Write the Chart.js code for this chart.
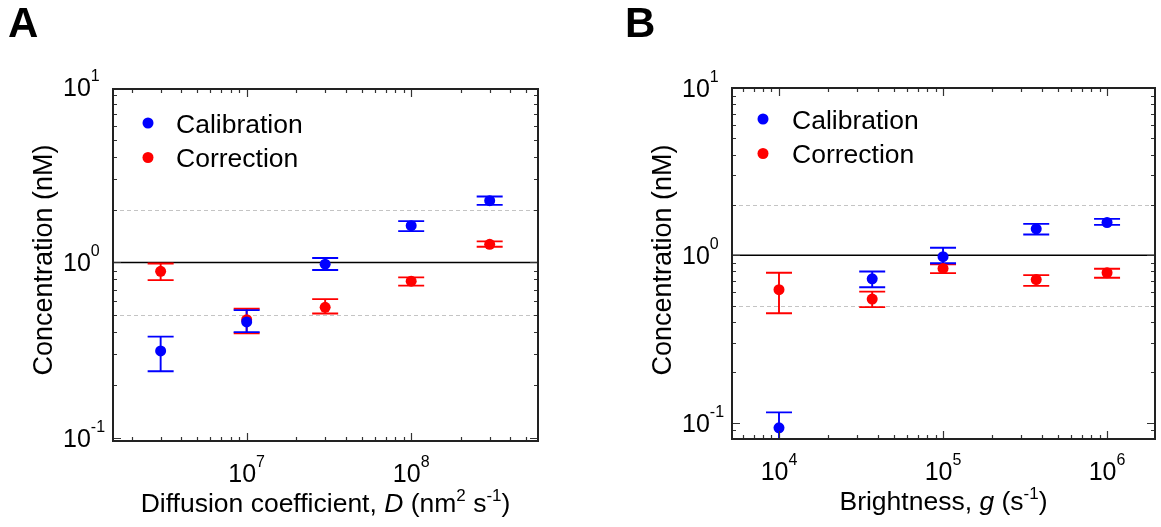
<!DOCTYPE html>
<html>
<head>
<meta charset="utf-8">
<script src="https://cdn.jsdelivr.net/npm/chart.js@4.4.0/dist/chart.umd.min.js"></script>
<style>
  html, body { margin: 0; padding: 0; background: #fff; }
  #wrap { position: relative; width: 1161px; height: 527px; overflow: hidden; }
  canvas { position: absolute; top: 0; }
  #panelA { left: 0; }
  #panelB { left: 580px; }
</style>
</head>
<body>
<div id="wrap">
  <canvas id="panelA" width="580" height="527"></canvas>
  <canvas id="panelB" width="581" height="527"></canvas>
</div>
<script>
// Panel A: concentration vs diffusion coefficient D (nm^2 s^-1)
const diffusionD = [3e6, 1e7, 3e7, 1e8, 3e8];
const calibD     = [0.313, 0.458, 0.978, 1.62, 2.25];
const calibDLow  = [0.240, 0.401, 0.906, 1.51, 2.13];
const calibDHigh = [0.378, 0.535, 1.06, 1.72, 2.38];
const corrD      = [0.891, 0.472, 0.555, 0.782, 1.27];
const corrDLow   = [0.793, 0.395, 0.512, 0.738, 1.23];
const corrDHigh  = [0.987, 0.545, 0.618, 0.822, 1.32];

// Panel B: concentration vs brightness g (s^-1)
const brightnessG = [1e4, 3.7e4, 1e5, 3.7e5, 1e6];
const calibG      = [0.093, 0.723, 0.98, 1.44, 1.57];
const calibGLow   = [0.070, 0.644, 0.895, 1.33, 1.52];
const calibGHigh  = [0.115, 0.80, 1.11, 1.54, 1.65];
const corrG       = [0.623, 0.547, 0.834, 0.716, 0.786];
const corrGLow    = [0.45, 0.49, 0.782, 0.656, 0.733];
const corrGHigh   = [0.786, 0.606, 0.883, 0.761, 0.83];

// reference levels: expected 1 nM, and a factor of two either side
const refSolid = [1];
const refDashed = [0.5, 2];
const yDecades = [0.1, 1, 10];

const FONT = '"Liberation Sans", Arial, Helvetica, sans-serif';
const BLUE = '#0000ff', RED = '#ff0000';

// text made of pieces (upright / italic / superscript)
function runsWidth(ctx, runs, size) {
  let w = 0;
  for (const r of runs) {
    const fs = r.sup ? Math.round(size * 0.64) : size;
    ctx.font = `${r.italic ? 'italic ' : ''}${fs}px ${FONT}`;
    w += ctx.measureText(r.t).width;
  }
  return w;
}
function drawRuns(ctx, runs, x, y, size, raise) {
  ctx.textAlign = 'left';
  ctx.textBaseline = 'alphabetic';
  let cx = x;
  for (const r of runs) {
    const fs = r.sup ? Math.round(size * 0.64) : size;
    ctx.font = `${r.italic ? 'italic ' : ''}${fs}px ${FONT}`;
    ctx.fillText(r.t, cx, r.sup ? y - size * raise : y);
    cx += ctx.measureText(r.t).width;
  }
}
const powLabel = (v) => [{ t: '10' }, { t: String(Math.round(Math.log10(v))), sup: true }];

function logTicks(min, max) {
  const major = [], minor = [];
  for (let e = Math.floor(Math.log10(min)); e <= Math.ceil(Math.log10(max)); e++) {
    for (let k = 1; k <= 9; k++) {
      const v = k * Math.pow(10, e);
      if (v < min * 0.999 || v > max * 1.001) continue;
      (k === 1 ? major : minor).push(v);
    }
  }
  return { major, minor };
}

const figurePlugin = {
  id: 'figure',
  beforeDatasetsDraw(chart, args, opts) {
    const { ctx, chartArea: a, scales: { x, y } } = chart;
    ctx.save();
    ctx.beginPath();
    ctx.rect(a.left, a.top, a.right - a.left, a.bottom - a.top);
    ctx.clip();
    // reference lines
    ctx.lineWidth = 1;
    ctx.strokeStyle = '#c4c4c4';
    ctx.setLineDash([4, 3]);
    for (const v of refDashed) {
      const py = Math.round(y.getPixelForValue(v)) + 0.5;
      ctx.beginPath(); ctx.moveTo(a.left, py); ctx.lineTo(a.right, py); ctx.stroke();
    }
    ctx.setLineDash([]);
    ctx.lineWidth = 1.6;
    ctx.strokeStyle = '#000';
    for (const v of refSolid) {
      const py = y.getPixelForValue(v);
      ctx.beginPath(); ctx.moveTo(a.left, py); ctx.lineTo(a.right, py); ctx.stroke();
    }
    // error bars, last dataset first so Calibration sits on top
    const cap = 13;
    for (let i = chart.data.datasets.length - 1; i >= 0; i--) {
      const ds = chart.data.datasets[i];
      ctx.strokeStyle = ds.backgroundColor;
      ctx.lineWidth = 1.9;
      ds.data.forEach((p, j) => {
        const px = x.getPixelForValue(p.x);
        const lo = y.getPixelForValue(ds.errLow[j]);
        const hi = y.getPixelForValue(ds.errHigh[j]);
        ctx.beginPath();
        ctx.moveTo(px, lo); ctx.lineTo(px, hi);
        ctx.moveTo(px - cap, lo); ctx.lineTo(px + cap, lo);
        ctx.moveTo(px - cap, hi); ctx.lineTo(px + cap, hi);
        ctx.stroke();
      });
    }
    ctx.restore();
  },
  afterDraw(chart, args, opts) {
    const { ctx, chartArea: a, scales: { x, y } } = chart;
    ctx.save();
    ctx.fillStyle = '#000';

    // frame + inward ticks on all four sides
    ctx.strokeStyle = '#333';
    ctx.lineWidth = 1.2;
    const xt = logTicks(x.min, x.max), yt = logTicks(y.min, y.max);
    ctx.beginPath();
    for (const [list, len] of [[xt.major, 8], [xt.minor, 4]]) {
      for (const v of list) {
        const px = Math.round(x.getPixelForValue(v)) + 0.5;
        ctx.moveTo(px, a.bottom); ctx.lineTo(px, a.bottom - len);
        ctx.moveTo(px, a.top); ctx.lineTo(px, a.top + len);
      }
    }
    for (const [list, len] of [[yt.major, 8], [yt.minor, 4]]) {
      for (const v of list) {
        const py = Math.round(y.getPixelForValue(v)) + 0.5;
        ctx.moveTo(a.left, py); ctx.lineTo(a.left + len, py);
        ctx.moveTo(a.right, py); ctx.lineTo(a.right - len, py);
      }
    }
    ctx.stroke();
    ctx.lineWidth = 2;
    ctx.strokeStyle = '#222';
    ctx.strokeRect(a.left, a.top, a.right - a.left, a.bottom - a.top);

    // tick labels 10^n
    for (const v of xt.major) {
      const runs = powLabel(v);
      const w = runsWidth(ctx, runs, 25);
      drawRuns(ctx, runs, x.getPixelForValue(v) - w / 2, a.bottom + 41, 25, 0.6);
    }
    for (const v of yDecades) {
      if (v < y.min * 0.9 || v > y.max * 1.1) continue;
      drawRuns(ctx, powLabel(v), a.left - 50, y.getPixelForValue(v) + 9, 25, 0.6);
    }

    // axis titles
    const tw = runsWidth(ctx, opts.xTitle, 26.5);
    drawRuns(ctx, opts.xTitle, (a.left + a.right) / 2 - tw / 2, a.bottom + 71, 26.5, 0.42);
    ctx.save();
    ctx.translate(a.left - 68, 260);
    ctx.rotate(-Math.PI / 2);
    ctx.font = `27px ${FONT}`;
    ctx.textAlign = 'center';
    ctx.textBaseline = 'middle';
    ctx.fillText('Concentration (nM)', 0, 0);
    ctx.restore();

    // legend
    chart.data.datasets.forEach((ds, i) => {
      const ly = opts.legendY + i * 34.5;
      ctx.fillStyle = ds.backgroundColor;
      ctx.beginPath(); ctx.arc(a.left + opts.legendDot, ly, 5.5, 0, Math.PI * 2); ctx.fill();
      ctx.fillStyle = '#000';
      ctx.font = `26.5px ${FONT}`;
      ctx.textAlign = 'left';
      ctx.textBaseline = 'alphabetic';
      ctx.fillText(ds.label, a.left + opts.legendText, ly + 9.5);
    });

    // panel letter
    ctx.font = `bold 42px ${FONT}`;
    ctx.textAlign = 'left';
    ctx.fillText(opts.letter, opts.letterX, 37);
    ctx.restore();
  },
};

function makePanel(id, xs, cal, calLo, calHi, cor, corLo, corHi, xRange, yRange, padding, fig) {
  const pts = (ys) => xs.map((v, i) => ({ x: v, y: ys[i] }));
  return new Chart(document.getElementById(id), {
    type: 'scatter',
    data: {
      datasets: [
        { label: 'Calibration', data: pts(cal), errLow: calLo, errHigh: calHi, backgroundColor: BLUE, borderColor: BLUE },
        { label: 'Correction', data: pts(cor), errLow: corLo, errHigh: corHi, backgroundColor: RED, borderColor: RED },
      ],
    },
    options: {
      responsive: false,
      animation: false,
      layout: { padding },
      elements: { point: { radius: 5.5, borderWidth: 0, hoverRadius: 5.5 } },
      scales: {
        x: { type: 'logarithmic', min: xRange[0], max: xRange[1], display: false },
        y: { type: 'logarithmic', min: yRange[0], max: yRange[1], display: false },
      },
      plugins: { legend: { display: false }, tooltip: { enabled: false }, figure: fig },
    },
    plugins: [figurePlugin],
  });
}

makePanel('panelA', diffusionD, calibD, calibDLow, calibDHigh, corrD, corrDLow, corrDHigh,
  [1.54e6, 5.9e8], [0.096, 9.75],
  { left: 113, top: 89, right: 42, bottom: 86 },
  {
    letter: 'A', letterX: 8, legendY: 123, legendDot: 35, legendText: 63,
    xTitle: [{ t: 'Diffusion coefficient, ' }, { t: 'D', italic: true }, { t: ' (nm' }, { t: '2', sup: true }, { t: ' s' }, { t: '-1', sup: true }, { t: ')' }],
  });

makePanel('panelB', brightnessG, calibG, calibGLow, calibGHigh, corrG, corrGLow, corrGHigh,
  [5.17e3, 1.96e6], [0.0797, 10],
  { left: 152, top: 88, right: 6, bottom: 88 },
  {
    letter: 'B', letterX: 45, legendY: 119, legendDot: 31, legendText: 60,
    xTitle: [{ t: 'Brightness, ' }, { t: 'g', italic: true }, { t: ' (s' }, { t: '-1', sup: true }, { t: ')' }],
  });
</script>
</body>
</html>
